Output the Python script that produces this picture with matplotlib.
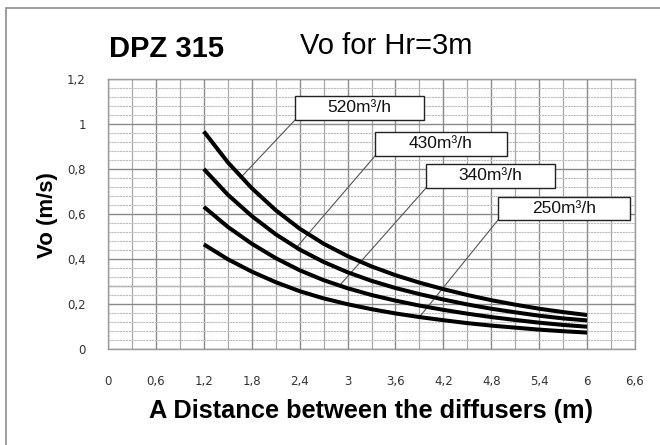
import numpy as np
import matplotlib
matplotlib.use("Agg")
import matplotlib.pyplot as plt
from matplotlib.patches import Rectangle
from matplotlib.ticker import MultipleLocator, FixedLocator

# ---------------- data ----------------
distance = [1.2, 1.5, 1.8, 2.1, 2.4, 2.7, 3.0, 3.3, 3.6, 3.9, 4.2, 4.5, 4.8, 5.1, 5.4, 5.7, 6.0]
vo_520 = [0.967, 0.830, 0.715, 0.617, 0.535, 0.468, 0.413, 0.367, 0.328, 0.295, 0.266, 0.240, 0.217, 0.197, 0.179, 0.164, 0.151]
vo_430 = [0.800, 0.686, 0.591, 0.510, 0.442, 0.387, 0.341, 0.303, 0.271, 0.244, 0.220, 0.198, 0.179, 0.163, 0.148, 0.136, 0.127]
vo_340 = [0.632, 0.543, 0.468, 0.404, 0.350, 0.306, 0.270, 0.240, 0.215, 0.193, 0.174, 0.157, 0.142, 0.129, 0.117, 0.107, 0.099]
vo_250 = [0.465, 0.399, 0.344, 0.297, 0.257, 0.225, 0.199, 0.177, 0.158, 0.142, 0.128, 0.115, 0.104, 0.095, 0.086, 0.079, 0.073]
series_labels = ["520m³/h", "430m³/h", "340m³/h", "250m³/h"]
x_ticks = [0, 0.6, 1.2, 1.8, 2.4, 3.0, 3.6, 4.2, 4.8, 5.4, 6.0, 6.6]
x_tick_labels = ["0", "0,6", "1,2", "1,8", "2,4", "3", "3,6", "4,2", "4,8", "5,4", "6", "6,6"]
y_ticks = [0, 0.2, 0.4, 0.6, 0.8, 1.0, 1.2]
y_tick_labels = ["0", "0,2", "0,4", "0,6", "0,8", "1", "1,2"]
# x where each label's leader line touches its curve
leader_x = [1.67, 2.36, 2.9, 3.9]

# ---------------- figure ----------------
W, H = 660, 445
fig = plt.figure(figsize=(W / 100, H / 100), dpi=100)
fig.patch.set_facecolor("white")

# outer frame
fig.patches.append(Rectangle((6 / W, -0.1), 1.2, (H - 8) / H + 0.1, transform=fig.transFigure,
                             fill=False, edgecolor="#8c8c8c", linewidth=1.2))

ax_l, ax_r, ax_t, ax_b = 108, 635, 79, 349
ax = fig.add_axes([ax_l / W, 1 - ax_b / H, (ax_r - ax_l) / W, (ax_b - ax_t) / H])
ax.set_xlim(0, 6.6)
ax.set_ylim(0, 1.2)

# grid
ax.xaxis.set_major_locator(FixedLocator(x_ticks))
ax.yaxis.set_major_locator(FixedLocator(y_ticks))
ax.xaxis.set_minor_locator(MultipleLocator(0.3))
ax.yaxis.set_minor_locator(MultipleLocator(0.04))
ax.grid(which="minor", axis="y", color="#bdbdbd", linewidth=0.8, linestyle=(0, (2, 0.6)))
ax.grid(which="minor", axis="x", color="#a8a8a8", linewidth=0.9)
ax.grid(which="major", axis="both", color="#8a8a8a", linewidth=1.0)
ax.axhline(0.28, color="#9a9a9a", linewidth=1.0, zorder=0.5)
ax.set_axisbelow(True)
for s in ax.spines.values():
    s.set_color("#9a9a9a")
    s.set_linewidth(1.0)

ax.set_xticklabels(x_tick_labels)
ax.set_yticklabels(y_tick_labels)
ax.tick_params(which="both", length=0)
ax.tick_params(axis="x", pad=19, labelsize=8.5, labelcolor="#333333")
ax.tick_params(axis="y", pad=16, labelsize=8.5, labelcolor="#333333")

# curves
all_series = [vo_520, vo_430, vo_340, vo_250]
for vals in all_series:
    ax.plot(distance, vals, color="black", linewidth=2.9, solid_capstyle="butt",
            solid_joinstyle="round", zorder=3)

# label boxes (pixel layout) and leader lines
def px2data(px, py):
    return ((px - ax_l) / (ax_r - ax_l) * 6.6, (ax_b - py) / (ax_b - ax_t) * 1.2)

boxes_px = [(295, 96, 424, 120), (375, 132, 507, 156), (426, 164, 555, 188), (498, 197, 630, 220)]
for lab, vals, lx, (x0, y0, x1, y1) in zip(series_labels, all_series, leader_x, boxes_px):
    dx0, dy1 = px2data(x0, y1)
    dx1, dy0 = px2data(x1, y0)
    ly = np.interp(lx, distance, vals)
    ax.plot([dx0, lx], [dy1, ly], color="#555555", linewidth=0.8, zorder=2)
    ax.add_patch(Rectangle((dx0, dy1), dx1 - dx0, dy0 - dy1, facecolor="white",
                           edgecolor="#222222", linewidth=1.0, zorder=4))
    ax.text((dx0 + dx1) / 2, (dy0 + dy1) / 2, lab, ha="center", va="center",
            fontsize=12.5, family="Liberation Sans", color="#111111", zorder=5)

# titles
fig.text(109 / W, 1 - 57 / H, "DPZ 315", fontsize=21, fontweight="bold",
         family="Liberation Sans", ha="left", va="baseline")
fig.text(300 / W, 1 - 54 / H, "Vo for Hr=3m", fontsize=21, family="Liberation Sans",
         ha="left", va="baseline")
fig.text(371 / W, 1 - 411 / H, "A Distance between the diffusers (m)", fontsize=18.3,
         fontweight="bold", family="Liberation Sans", ha="center", va="center")
fig.text(47 / W, 1 - 215 / H, "Vo (m/s)", fontsize=16, fontweight="bold",
         family="Liberation Sans", ha="center", va="center", rotation=90)

fig.savefig("out.png", dpi=100)
